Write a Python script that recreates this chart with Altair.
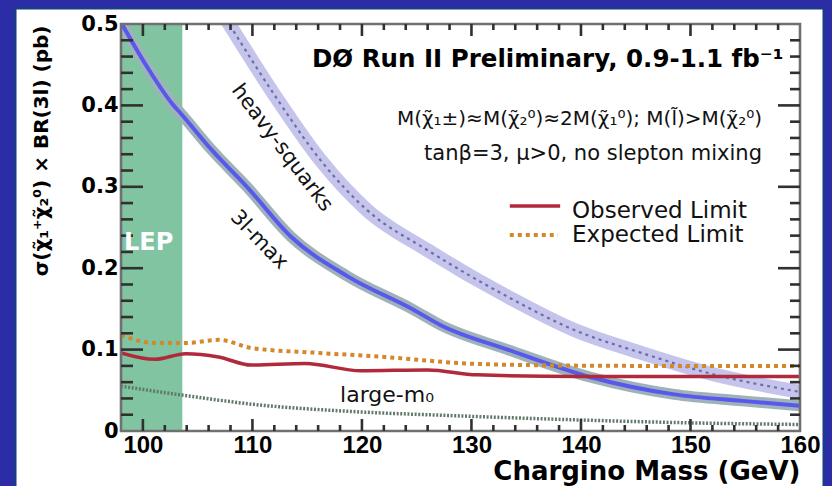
import altair as alt
import pandas as pd

# ---- plot geometry (pixels) -------------------------------------------------
PLOT_W, PLOT_H = 679, 407

# ---- axis ranges and ticks --------------------------------------------------
MASS_RANGE = [98.0, 160.0]
XSEC_RANGE = [0.0, 0.5]
X_LABELS = [100, 110, 120, 130, 140, 150, 160]
X_MAJOR = [100.0, 110.0, 120.0, 130.0, 140.0, 150.0]
X_MINOR = [102.0, 104.0, 106.0, 108.0, 112.0, 114.0, 116.0, 118.0, 122.0,
           124.0, 126.0, 128.0, 132.0, 134.0, 136.0, 138.0, 142.0, 144.0,
           146.0, 148.0, 152.0, 154.0, 156.0, 158.0]
Y_LABELS = [0.0, 0.1, 0.2, 0.3, 0.4, 0.5]
Y_MAJOR = [0.1, 0.2, 0.3, 0.4]
Y_MINOR = [0.02, 0.04, 0.06, 0.08, 0.12, 0.14, 0.16, 0.18, 0.22, 0.24, 0.26,
           0.28, 0.32, 0.34, 0.36, 0.38, 0.42, 0.44, 0.46, 0.48]

# ---- LEP exclusion band (GeV) ----------------------------------------------
LEP_EDGE = [98.0, 103.6]

# ---- theory curves: sigma x BR(3l) in pb -----------------------------------
MASS_3L = [98.0, 100.4, 102.8, 103.4, 106.3, 109.5, 113.5, 118.7, 124.7,
           127.2, 133.3, 140.9, 148.5, 154.7, 160.0]
XSEC_3L = [0.502, 0.447, 0.400, 0.391, 0.345, 0.300, 0.239, 0.190, 0.149,
           0.130, 0.100, 0.066, 0.045, 0.037, 0.031]

MASS_HS = [107.6, 112.3, 116.2, 120.5, 126.0, 133.3, 139.4, 145.5, 151.7, 160.0]
XSEC_HS = [0.506, 0.407, 0.333, 0.271, 0.222, 0.165, 0.124, 0.096, 0.071, 0.048]

MASS_M0 = [98.0, 103.7, 109.9, 119.0, 128.0, 140.0, 150.0, 160.0]
XSEC_M0 = [0.055, 0.044, 0.033, 0.024, 0.019, 0.0135, 0.010, 0.008]

# ---- limits -----------------------------------------------------------------
MASS_OBS = [98.0, 101.1, 103.9, 106.9, 109.9, 114.8, 119.9, 126.0, 130.5,
            140.0, 150.0, 160.0]
LIMIT_OBS = [0.096, 0.088, 0.095, 0.091, 0.081, 0.083, 0.074, 0.075, 0.069,
             0.067, 0.067, 0.067]

MASS_EXP = [98.0, 101.1, 103.9, 106.9, 109.9, 116.0, 122.0, 129.5, 135.0,
            145.0, 160.0]
LIMIT_EXP = [0.118, 0.108, 0.108, 0.112, 0.102, 0.096, 0.091, 0.083, 0.081,
             0.080, 0.080]

# ---- colours ----------------------------------------------------------------
SLIDE_BLUE = "#2c2ca6"
LEP_GREEN = "#80c4a2"
BAND_GREY = "#9fb2b9"
LINE_BLUE = "#5858ec"
BAND_LAVENDER = "#c4c4ec"
DOT_LAVENDER = "#6e6ea2"
M0_GREEN = "#627a6a"
OBS_RED = "#b02a3c"
EXP_ORANGE = "#d4882a"
TICK = "#303030"
FRAME = "#707070"

FONT = "DejaVu Sans"

# data units per pixel, used to turn tick lengths into axis offsets
MASS_PER_PX = (MASS_RANGE[1] - MASS_RANGE[0]) / PLOT_W
XSEC_PER_PX = (XSEC_RANGE[1] - XSEC_RANGE[0]) / PLOT_H


def table(mass, val):
    return pd.DataFrame({"mass": mass, "val": val})


x_axis = alt.Axis(
    values=X_LABELS, ticks=False, domain=False, grid=False,
    labelFont="Liberation Sans", labelFontWeight="bold", labelFontSize=24,
    labelColor="black", labelPadding=2, labelFlush=False, labelOverlap=False,
    title="Chargino Mass (GeV)", titleFont=FONT, titleFontWeight="bold",
    titleFontSize=26, titleColor="black", titleX=PLOT_W, titleY=40,
    titleAlign="right", titleBaseline="middle", zindex=1,
)
y_axis = alt.Axis(
    values=Y_LABELS, ticks=False, domain=False, grid=False,
    labelExpr="datum.value == 0 ? '0' : format(datum.value, '.1f')",
    labelFont=FONT, labelFontWeight="bold", labelFontSize=21,
    labelColor="black", labelPadding=3, labelFlush=False, labelOverlap=False,
    title="σ(χ̃₁⁺χ̃₂⁰) × BR(3l) (pb)", titleFont=FONT, titleFontWeight="bold",
    titleFontSize=20, titleColor="black", titleX=-80, titleY=1,
    titleAngle=270, titleAlign="right", titleBaseline="middle", zindex=1,
)

xs = alt.Scale(domain=MASS_RANGE, nice=False, zero=False)
ys = alt.Scale(domain=XSEC_RANGE, nice=False, zero=False)
X = alt.X("mass:Q", scale=xs, axis=x_axis)
Y = alt.Y("val:Q", scale=ys, axis=y_axis)
one = pd.DataFrame({"mass": [0.0]})

# white slide panel behind the plot
panel = alt.Chart(one).mark_rect(
    fill="white", stroke="#1d3b8c", strokeWidth=3
).encode(x=alt.value(-106), x2=alt.value(703), y=alt.value(-16), y2=alt.value(480))

lep = alt.Chart(pd.DataFrame({"mass": [LEP_EDGE[0]], "mass2": [LEP_EDGE[1]]})).mark_rect(
    color=LEP_GREEN
).encode(x=X, x2="mass2:Q", y=alt.value(0), y2=alt.value(PLOT_H))


def line(mass, val, **kw):
    return alt.Chart(table(mass, val)).mark_line(clip=True, **kw).encode(x=X, y=Y)


m0 = line(MASS_M0, XSEC_M0, color=M0_GREEN, strokeWidth=3.5,
          strokeDash=[2, 1.6], interpolate="monotone")
hs_band = line(MASS_HS, XSEC_HS, color=BAND_LAVENDER, strokeWidth=14,
               interpolate="monotone")
hs_dots = line(MASS_HS, XSEC_HS, color=DOT_LAVENDER, strokeWidth=2.2,
               strokeDash=[3, 4], interpolate="monotone")
l3_band = line(MASS_3L, XSEC_3L, color=BAND_GREY, strokeWidth=11,
               interpolate="monotone")
l3_line = line(MASS_3L, XSEC_3L, color=LINE_BLUE, strokeWidth=4,
               interpolate="monotone")
obs = line(MASS_OBS, LIMIT_OBS, color=OBS_RED, strokeWidth=3.5,
           interpolate="monotone")
exp = line(MASS_EXP, LIMIT_EXP, color=EXP_ORANGE, strokeWidth=4,
           strokeDash=[4, 4], interpolate="monotone")

# every inward tick as one segment (mass, val) -> (mass2, val2)
segments = []
for vals, length in ((X_MAJOR, 12), (X_MINOR, 6)):
    dv = length * XSEC_PER_PX
    for m in vals:
        segments.append((m, XSEC_RANGE[0], m, XSEC_RANGE[0] + dv))
        segments.append((m, XSEC_RANGE[1], m, XSEC_RANGE[1] - dv))
for vals, left_len, right_len in ((Y_MAJOR, 22, 22), (Y_MINOR, 12, 10)):
    for v in vals:
        segments.append((MASS_RANGE[0], v, MASS_RANGE[0] + left_len * MASS_PER_PX, v))
        segments.append((MASS_RANGE[1], v, MASS_RANGE[1] - right_len * MASS_PER_PX, v))
tick_df = pd.DataFrame(segments, columns=["mass", "val", "mass2", "val2"])

ticks = alt.Chart(tick_df).mark_rule(color=TICK, strokeWidth=2.6).encode(
    x=X, y=Y, x2="mass2:Q", y2="val2:Q"
)

frame = alt.Chart(one).mark_rect(
    fill="transparent", stroke=FRAME, strokeWidth=2.6
).encode(x=alt.value(0), x2=alt.value(PLOT_W), y=alt.value(0), y2=alt.value(PLOT_H))


def label(text, mass, val, **kw):
    return alt.Chart(pd.DataFrame({"mass": [mass], "val": [val]})).mark_text(
        text=text, **kw
    ).encode(x=X, y=Y)


texts = [
    label("DØ Run II Preliminary, 0.9-1.1 fb⁻¹", 115.44, 0.4472, align="left",
          baseline="alphabetic", font=FONT, fontWeight="bold", fontSize=24.5,
          color="black"),
    label("M(χ̃₁±)≈M(χ̃₂⁰)≈2M(χ̃₁⁰); M(l̃)>M(χ̃₂⁰)", 156.53, 0.3759, align="right",
          baseline="alphabetic", font=FONT, fontSize=20, color="#111111"),
    label("tanβ=3, μ>0, no slepton mixing", 156.53, 0.3329, align="right",
          baseline="alphabetic", font=FONT, fontSize=21, color="#111111"),
    label("Observed Limit", 139.18, 0.2617, align="left", baseline="alphabetic",
          font=FONT, fontSize=23, color="#111111"),
    label("Expected Limit", 139.18, 0.2322, align="left", baseline="alphabetic",
          font=FONT, fontSize=23, color="#111111"),
    label("heavy-squarks", 112.70, 0.3477, align="center", baseline="middle",
          angle=53, font=FONT, fontSize=21, color="#111111"),
    label("3l-max", 110.60, 0.2346, align="center", baseline="middle",
          angle=46, font=FONT, fontSize=21, color="#111111"),
    label("large-m₀", 118.0, 0.0356, align="left", baseline="alphabetic",
          font=FONT, fontSize=22, color="#111111"),
    label("LEP", 98.27, 0.2224, align="left", baseline="alphabetic",
          font=FONT, fontWeight="bold", fontSize=24, color="white"),
]

# legend samples
legend = [
    alt.Chart(pd.DataFrame({"mass": [133.5], "mass2": [138.1], "val": [0.2764]}))
    .mark_rule(color=OBS_RED, strokeWidth=3.5)
    .encode(x=X, x2="mass2:Q", y=Y),
    alt.Chart(pd.DataFrame({"mass": [133.5], "mass2": [137.9], "val": [0.2408]}))
    .mark_rule(color=EXP_ORANGE, strokeWidth=4, strokeDash=[4, 4])
    .encode(x=X, x2="mass2:Q", y=Y),
]

chart = alt.layer(
    panel, lep, m0, hs_band, hs_dots, l3_band, l3_line, obs, exp,
    *legend, frame, ticks, *texts,
).properties(
    width=PLOT_W,
    height=PLOT_H,
    background=SLIDE_BLUE,
    padding={"left": 121, "top": 24, "right": 32, "bottom": 55},
    autosize=alt.AutoSizeParams(type="none"),
).configure_view(stroke=None)

chart.save("out.html", embed_options={"renderer": "svg", "actions": False})
